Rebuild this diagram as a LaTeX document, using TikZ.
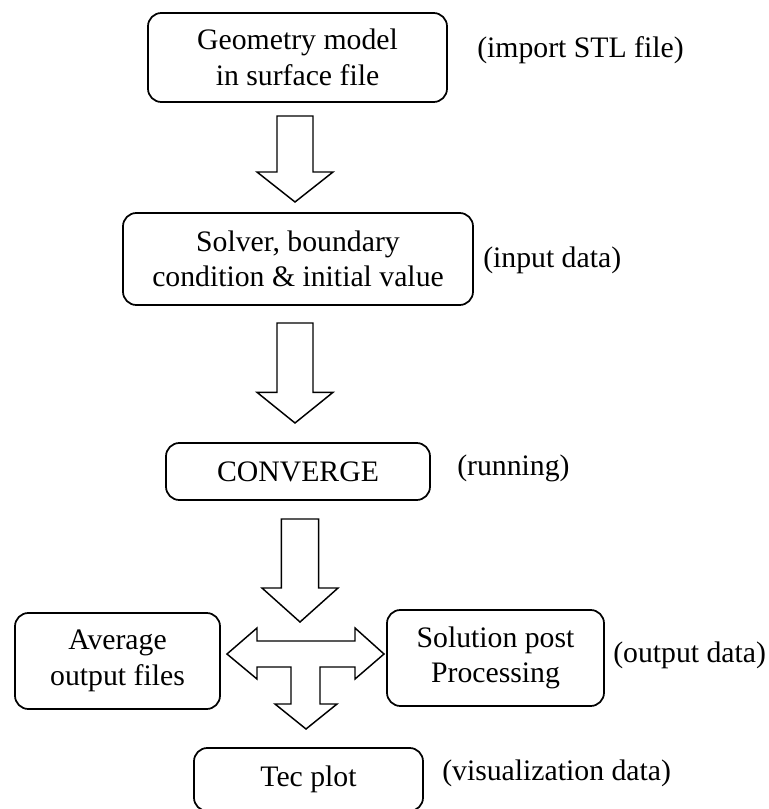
\documentclass[tikz,border=0pt]{standalone}
\usepackage{fontspec}
\setmainfont{Liberation Serif}
\usetikzlibrary{calc}
\tikzset{
  flowbox/.style={draw, line width=1.3pt, rounded corners=10pt, align=center, inner sep=0pt,
    font=\fontsize{22.3pt}{26.6pt}\selectfont},
  sidelabel/.style={anchor=west, inner sep=0pt, font=\fontsize{22.3pt}{26.6pt}\selectfont},
  blk/.style={draw, line width=1.1pt, fill=white, line join=miter}
}
\newcommand{\blkdown}[4]{% start, tip, shaft half width, head length
  \draw[blk] let \p1=(#1), \p2=(#2) in
    (\x1-#3,\y1) -- (\x1+#3,\y1) -- (\x1+#3,\y2+#4) -- (\x1+28.5pt,\y2+#4) --
    (\x2,\y2) -- (\x1-28.5pt,\y2+#4) -- (\x1-#3,\y2+#4) -- cycle;}
\begin{document}
\begin{tikzpicture}[x=0.75pt,y=-0.75pt]
\useasboundingbox (0,0) rectangle (768,809);

% boxes
\node[flowbox, minimum width=299*0.75pt, minimum height=89*0.75pt] (b1) at (297.5,57.5)
  {Geometry model\\in surface file};
\node[flowbox, minimum width=350*0.75pt, minimum height=92*0.75pt] (b2) at (298,259)
  {Solver, boundary\\condition \& initial value};
\node[flowbox, minimum width=264*0.75pt, minimum height=57*0.75pt] (b3) at (298,471.5)
  {CONVERGE};
\node[flowbox, minimum width=205*0.75pt, minimum height=96*0.75pt] (b4) at (117.5,661)
  {Average\\output files};
\node[flowbox, minimum width=217*0.75pt, minimum height=96*0.75pt] (b5) at (495.5,658)
  {Solution post\\Processing};
\node[flowbox, minimum width=229*0.75pt, minimum height=63*0.75pt] (b6) at (308.5,779.5)
  {Tec plot};

% side labels
\node[sidelabel] (l1) at (477,50) {(import STL file)};
\node[sidelabel] (l2) at (483,260) {(input data)};
\node[sidelabel] (l3) at (457,468) {(running)};
\node[sidelabel] (l5) at (613,655) {(output data)};
\node[sidelabel] (l6) at (442,773) {(visualization data)};

% block arrows between boxes
\coordinate (a1s) at (295,116); \coordinate (a1e) at (295,202);
\coordinate (a2s) at (295,323); \coordinate (a2e) at (295,423);
\coordinate (a3s) at (300,519); \coordinate (a3e) at (300,622);
\blkdown{a1s}{a1e}{13.5pt}{22.5pt}
\blkdown{a2s}{a2e}{13.5pt}{23pt}
\blkdown{a3s}{a3e}{13.9pt}{25.5pt}

% three-way arrow
\coordinate (tl) at (227,654);
\coordinate (tr) at (384,654);
\coordinate (td) at (306,729);
\draw[blk] (tl) -- (257,628) -- (257,641) -- (355,641) -- (355,628) -- (tr)
  -- (355,679) -- (355,667) -- (320,667) -- (320,704) -- (337,704) -- (td)
  -- (275,704) -- (291,704) -- (291,667) -- (257,667) -- (257,679) -- cycle;
\end{tikzpicture}
\end{document}
